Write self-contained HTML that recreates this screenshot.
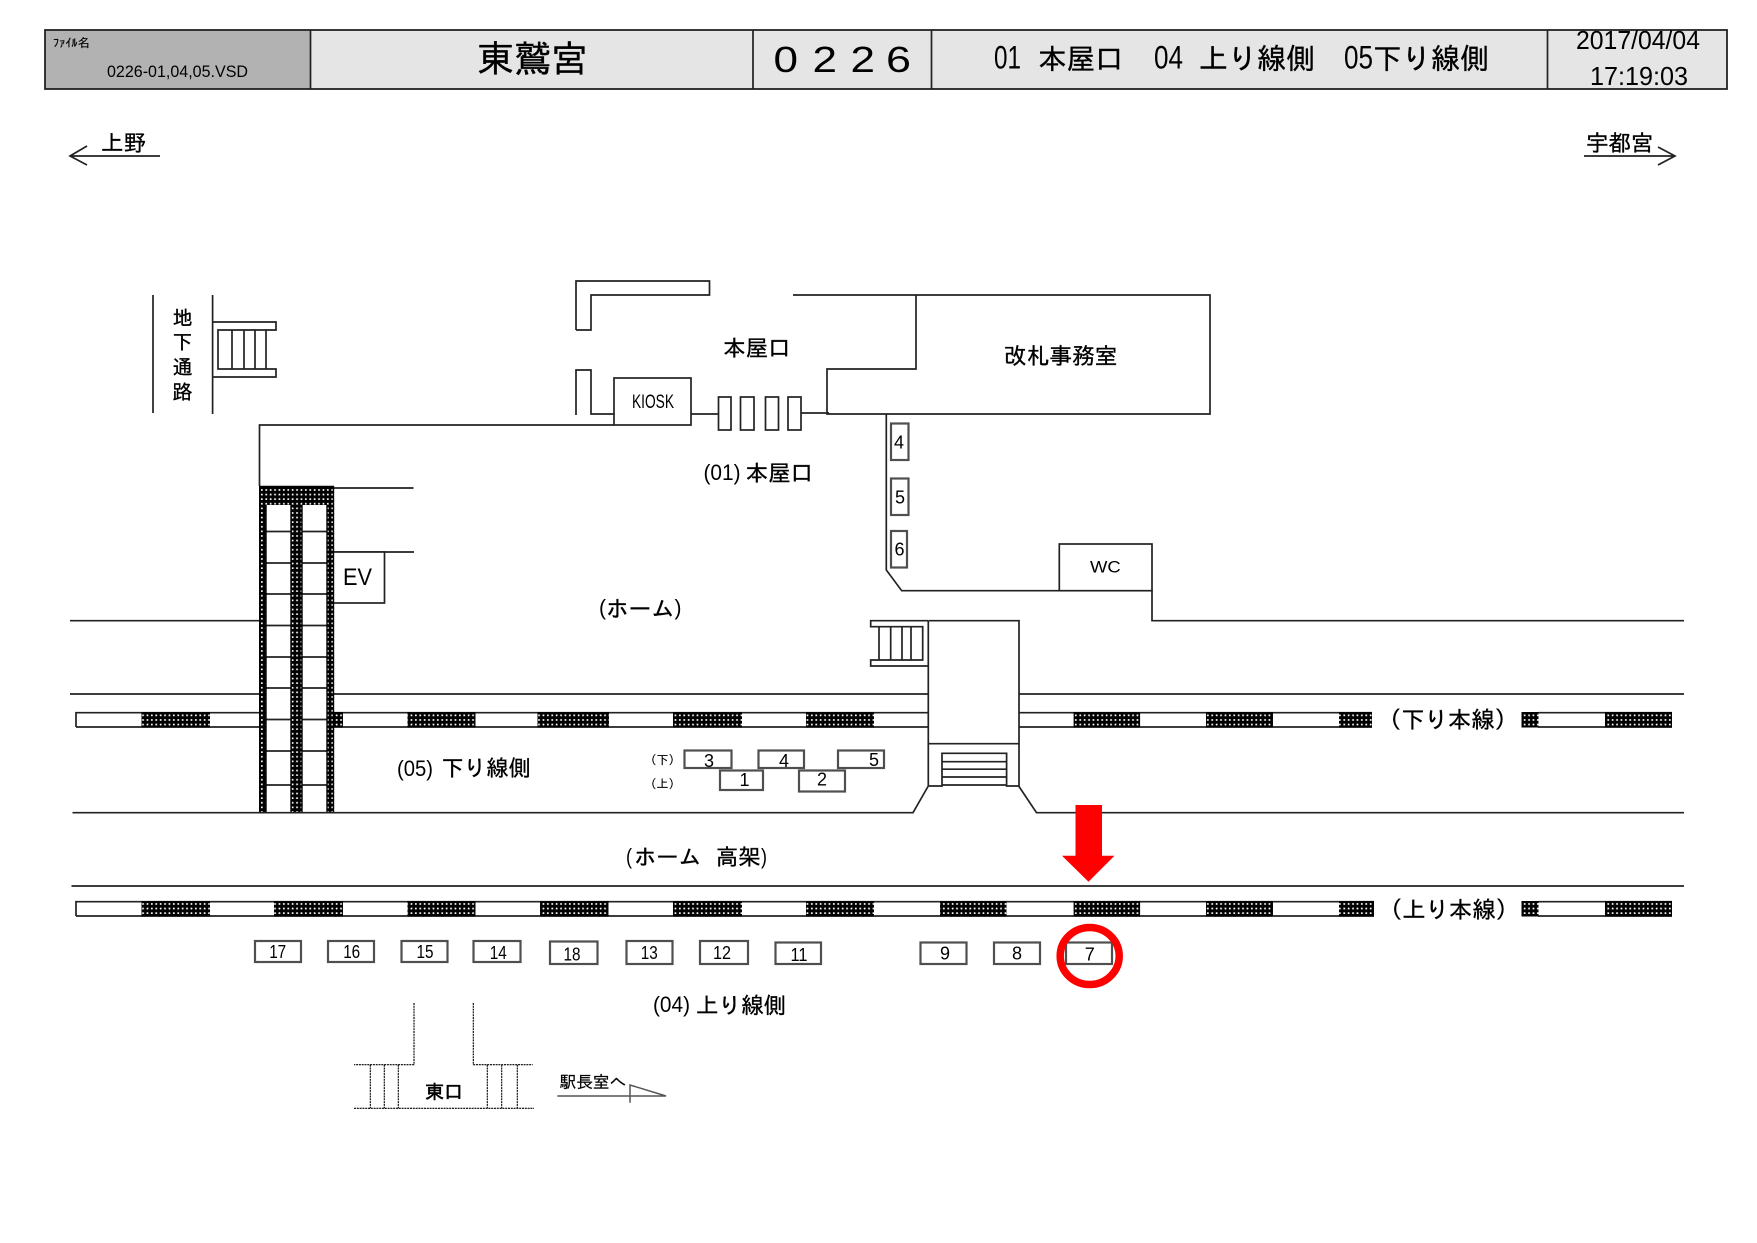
<!DOCTYPE html>
<html lang="ja">
<head>
<meta charset="utf-8">
<title>東鷲宮 0226</title>
<style>
html,body{margin:0;padding:0;background:#fff}
svg{display:block}
.j{font-family:"Liberation Sans","IPAGothic","Noto Sans CJK JP",sans-serif;fill:#000;stroke:#000;stroke-width:.35}
.l{font-family:"Liberation Sans","IPAGothic",sans-serif;fill:#000}
.n{font-family:"Liberation Sans",sans-serif;fill:#000;font-size:18px;text-anchor:middle}
.s{fill:none;stroke:#222;stroke-width:1.7}
.w{fill:#fff;stroke:#222;stroke-width:1.7}
.b{fill:#fff;stroke:#4f4f4f;stroke-width:2.200}
.d{fill:none;stroke:#000;stroke-width:1.100;stroke-dasharray:2 .8}
</style>
</head>
<body>
<svg xmlns="http://www.w3.org/2000/svg" width="1757" height="1243" viewBox="0 0 1757 1243">
<defs>
<pattern id="hp" patternUnits="userSpaceOnUse" width="4.4" height="4.6">
<rect width="4.4" height="4.6" fill="#000"/>
<rect x="1.400" y="1.500" width="1.700" height="1.700" fill="#fff"/>
</pattern>
</defs>

<!-- header -->
<rect x="45" y="30" width="265" height="59" fill="#b2b2b2"/>
<rect x="310" y="30" width="1417" height="59" fill="#e5e5e5"/>
<rect x="45" y="30" width="1682" height="59" fill="none" stroke="#222" stroke-width="1.800"/>
<path class="s" d="M310.500 30V89M753 30V89M931.500 30V89M1547.500 30V89"/>
<text class="j" x="53" y="47" font-size="12" textLength="37" lengthAdjust="spacingAndGlyphs" style="stroke-width:.15">ﾌｧｲﾙ名</text>
<text class="l" x="107" y="77" font-size="17" textLength="141" lengthAdjust="spacingAndGlyphs">0226-01,04,05.VSD</text>
<text class="j" x="477" y="72" font-size="37">東鷲宮</text>
<text class="l" x="773.500" y="72" font-size="36" textLength="24.500" lengthAdjust="spacingAndGlyphs">0</text>
<text class="l" x="812.500" y="72" font-size="36" textLength="24.500" lengthAdjust="spacingAndGlyphs">2</text>
<text class="l" x="850.500" y="72" font-size="36" textLength="24.500" lengthAdjust="spacingAndGlyphs">2</text>
<text class="l" x="886" y="72" font-size="36" textLength="25" lengthAdjust="spacingAndGlyphs">6</text>
<text class="l" x="994" y="68.500" font-size="32" textLength="27" lengthAdjust="spacingAndGlyphs">01</text>
<text class="j" x="1038" y="69" font-size="28.500">本屋口</text>
<text class="l" x="1154" y="68.500" font-size="32" textLength="29" lengthAdjust="spacingAndGlyphs">04</text>
<text class="j" x="1199" y="69" font-size="29">上り線側</text>
<text class="l" x="1344" y="68.500" font-size="32" textLength="29" lengthAdjust="spacingAndGlyphs">05</text>
<text class="j" x="1373" y="69" font-size="29">下り線側</text>
<text class="l" x="1576" y="49" font-size="26" textLength="124" lengthAdjust="spacingAndGlyphs">2017/04/04</text>
<text class="l" x="1590" y="85" font-size="26" textLength="98" lengthAdjust="spacingAndGlyphs">17:19:03</text>

<!-- direction arrows -->
<path class="s" d="M160 156H70M87 146L70 156L87 165"/>
<text class="j" x="101" y="151" font-size="22.500">上野</text>
<path class="s" d="M1584 156H1675M1658 147L1675 156L1658 165"/>
<text class="j" x="1586" y="151" font-size="22.500">宇都宮</text>

<!-- underground passage -->
<path class="s" d="M153 295V413M212.600 295V414"/>
<text class="j" font-size="20" x="172.500" y="325">地</text>
<text class="j" font-size="20" x="172.500" y="349">下</text>
<text class="j" font-size="20" x="172.500" y="374">通</text>
<text class="j" font-size="20" x="172.500" y="399">路</text>
<path class="s" d="M212.600 322H276V330H218V369H276V377H212.600M266 330V369M232 330V369M244 330V369M255 330V369"/>

<!-- main entrance -->
<path class="s" d="M576 330V281H709.500V295H591V330H576"/>
<path class="s" d="M576 415V370H591V414H614"/>
<rect class="w" x="614" y="378" width="77" height="47"/>
<text class="l" x="632" y="408" font-size="19" textLength="42" lengthAdjust="spacingAndGlyphs">KIOSK</text>
<path class="s" d="M691 414H718M801 413H829"/>
<rect class="w" x="718.500" y="397" width="12.500" height="33"/>
<rect class="w" x="740.500" y="397" width="13.500" height="33"/>
<rect class="w" x="765.500" y="397" width="13" height="33"/>
<rect class="w" x="788" y="397" width="13" height="33"/>
<path class="s" d="M793 295H1210V414H827V369H916V295"/>
<text class="j" x="723" y="356" font-size="22.500">本屋口</text>
<text class="j" x="1004" y="364" font-size="22.700">改札事務室</text>
<text class="l" x="703.500" y="480" font-size="22" textLength="37" lengthAdjust="spacingAndGlyphs">(01)</text>
<text class="j" x="745.500" y="481" font-size="22.500">本屋口</text>

<!-- platform walls -->
<path class="s" d="M614 425H259.500V486"/>
<path class="s" d="M334 488H413.500M334 552H414"/>
<rect class="w" x="333" y="552" width="51.500" height="51"/>
<text class="l" x="343" y="585" font-size="24.500" textLength="29" lengthAdjust="spacingAndGlyphs">EV</text>
<path class="s" d="M70 620.700H259"/>
<text class="l" x="599" y="615" font-size="22" textLength="7" lengthAdjust="spacingAndGlyphs">(</text>
<text class="j" x="606" y="617" font-size="23" textLength="68" lengthAdjust="spacingAndGlyphs">ホーム</text>
<text class="l" x="674.500" y="615" font-size="22" textLength="7" lengthAdjust="spacingAndGlyphs">)</text>

<!-- right corridor -->
<path class="s" d="M886.300 414V570L901.700 590.700H1059.300"/>
<rect class="b" x="891" y="423.500" width="17.500" height="36.500"/>
<rect class="b" x="891" y="478.500" width="17.500" height="36.500"/>
<rect class="b" x="891" y="531" width="16" height="36.500"/>
<text class="n" x="899" y="448.500">4</text>
<text class="n" x="900" y="503.500">5</text>
<text class="n" x="899.500" y="555.500">6</text>
<rect class="w" x="1059.300" y="544" width="92.700" height="46.700"/>
<text class="l" x="1090" y="572.700" font-size="17" textLength="30.700" lengthAdjust="spacingAndGlyphs">WC</text>
<path class="s" d="M1152 590.700V620.700H1684"/>

<!-- platform stairs -->
<path class="s" d="M928 620.700H870.700V626.700H922.700V660H870.700V666H928M879 626.700V660M890.700 626.700V660M902 626.700V660M911 626.700V660"/>
<path class="s" d="M928.300 620.700H1019V786H1006.600V753.300H942V786H928.300V620.700M928.300 743.700H1019"/>
<path class="s" d="M942 761.700H1006.600M942 769.200H1006.600M942 777H1006.600M942 785H1006.600"/>

<!-- up/down tracks -->
<path class="s" d="M70 694H259M334 694H928M1019 694H1684"/>
<path class="s" d="M76 727V712.700H259M76 727H259M334 712.700H928M334 727H928M1019 712.700H1372M1019 727H1372M1538 712.700H1672M1538 727H1672"/>
<g fill="url(#hp)">
<rect x="141.500" y="712" width="68.500" height="15.500"/>
<rect x="334" y="712" width="9" height="15.500"/>
<rect x="407.500" y="712" width="68" height="15.500"/>
<rect x="537.500" y="712" width="71.500" height="15.500"/>
<rect x="673" y="712" width="69" height="15.500"/>
<rect x="806" y="712" width="68" height="15.500"/>
<rect x="1073.600" y="712" width="66.500" height="15.500"/>
<rect x="1206" y="712" width="67" height="15.500"/>
<rect x="1339" y="712" width="33" height="15.500"/>
<rect x="1521.500" y="712" width="17" height="15.500"/>
<rect x="1605" y="712" width="67" height="15.500"/>
</g>
<text class="j" x="1378" y="728" font-size="23.300">（下り本線）</text>

<!-- escalator columns -->
<rect x="266" y="505" width="25" height="308" fill="#fff"/>
<rect x="302" y="505" width="25" height="308" fill="#fff"/>
<path class="s" d="M266 531.500H291M302 531.500H327M266 563H291M302 563H327M266 594H291M302 594H327M266 625.500H291M302 625.500H327M266 657H291M302 657H327M266 688H291M302 688H327M266 719.500H291M302 719.500H327M266 751H291M302 751H327M266 785H291M302 785H327"/>
<g fill="url(#hp)">
<rect x="259" y="486" width="75" height="19"/>
<rect x="259" y="505" width="7.500" height="308"/>
<rect x="290.500" y="505" width="11.500" height="308"/>
<rect x="326.500" y="505" width="7.500" height="308"/>
</g>
<path d="M260 486V813M266 505V813M291 505V813M302 505V813M327 505V813M333.500 486V813M259 486.500H334" fill="none" stroke="#000" stroke-width="1.400"/>

<text class="l" x="397" y="776" font-size="22" textLength="36" lengthAdjust="spacingAndGlyphs">(05)</text>
<text class="j" x="441.500" y="776" font-size="22.300">下り線側</text>
<text class="j" x="644.500" y="764" font-size="12" style="stroke-width:.15">（下）</text>
<text class="j" x="644.500" y="788" font-size="12" style="stroke-width:.15">（上）</text>

<rect class="b" x="684.500" y="750.500" width="47" height="17.500"/>
<rect class="b" x="758.500" y="750.500" width="45.500" height="17.500"/>
<rect class="b" x="838" y="750.500" width="46" height="17.500"/>
<rect class="b" x="720" y="770.500" width="43" height="19.500"/>
<rect class="b" x="799" y="770.500" width="46" height="21"/>
<text class="n" x="709" y="767">3</text>
<text class="n" x="784" y="767">4</text>
<text class="n" x="874" y="766">5</text>
<text class="n" x="744.500" y="786">1</text>
<text class="n" x="822" y="785.500">2</text>

<path class="s" d="M72.500 812.700H913L928 786.500M1019 786.500L1036.500 812.700H1684"/>

<text class="l" x="626" y="864" font-size="22" textLength="6" lengthAdjust="spacingAndGlyphs">(</text>
<text class="j" x="634" y="865" font-size="22.300">ホーム</text>
<text class="j" x="716" y="865" font-size="22.300">高架</text>
<text class="l" x="761" y="864" font-size="22" textLength="6" lengthAdjust="spacingAndGlyphs">)</text>

<path class="s" d="M71.500 886H1684"/>
<path class="s" d="M76 916V901.700H1374M76 916H1374M1538 901.700H1672M1538 916H1672"/>
<g fill="url(#hp)">
<rect x="141.500" y="901" width="68.500" height="15.500"/>
<rect x="274" y="901" width="69" height="15.500"/>
<rect x="407.500" y="901" width="68" height="15.500"/>
<rect x="540" y="901" width="68.500" height="15.500"/>
<rect x="673" y="901" width="69" height="15.500"/>
<rect x="806" y="901" width="68" height="15.500"/>
<rect x="940" y="901" width="66.500" height="15.500"/>
<rect x="1073.600" y="901" width="66.500" height="15.500"/>
<rect x="1206" y="901" width="67" height="15.500"/>
<rect x="1339" y="901" width="35" height="15.500"/>
<rect x="1521.500" y="901" width="17" height="15.500"/>
<rect x="1605" y="901" width="67" height="15.500"/>
</g>
<text class="j" x="1379" y="918" font-size="23.300">（上り本線）</text>

<!-- lower numbered boxes -->
<rect class="b" x="255" y="941" width="46" height="21"/>
<rect class="b" x="328" y="941" width="46" height="21"/>
<rect class="b" x="401.500" y="941" width="46" height="21"/>
<rect class="b" x="473.500" y="941" width="47" height="21"/>
<rect class="b" x="550" y="941.500" width="47.500" height="22.500"/>
<rect class="b" x="626.500" y="941" width="46" height="23"/>
<rect class="b" x="700" y="941" width="48" height="23"/>
<rect class="b" x="775.500" y="942.500" width="45.500" height="21.500"/>
<rect class="b" x="920.500" y="942.500" width="46" height="21.500"/>
<rect class="b" x="994" y="942.500" width="46" height="21.500"/>
<rect class="b" x="1066" y="942.500" width="46" height="21.500"/>
<text class="n" x="277.700" y="958" textLength="17" lengthAdjust="spacingAndGlyphs">17</text>
<text class="n" x="351.700" y="958" textLength="17" lengthAdjust="spacingAndGlyphs">16</text>
<text class="n" x="425" y="958" textLength="17" lengthAdjust="spacingAndGlyphs">15</text>
<text class="n" x="498.300" y="959" textLength="17" lengthAdjust="spacingAndGlyphs">14</text>
<text class="n" x="572" y="960.500" textLength="17" lengthAdjust="spacingAndGlyphs">18</text>
<text class="n" x="649.300" y="959" textLength="17" lengthAdjust="spacingAndGlyphs">13</text>
<text class="n" x="722" y="959" textLength="18" lengthAdjust="spacingAndGlyphs">12</text>
<text class="n" x="799" y="961" textLength="17" lengthAdjust="spacingAndGlyphs">11</text>
<text class="n" x="945" y="959.500">9</text>
<text class="n" x="1017" y="959.500">8</text>
<text class="n" x="1089.700" y="960.500">7</text>

<text class="l" x="653" y="1012" font-size="22" textLength="37" lengthAdjust="spacingAndGlyphs">(04)</text>
<text class="j" x="696" y="1013.500" font-size="22.500">上り線側</text>

<!-- east exit -->
<path class="d" d="M414 1003V1064.700H354M473.300 1003V1064.700H532.700M354 1108.300H534M370.300 1064.700V1108.300M384.300 1064.700V1108.300M398.300 1064.700V1108.300M487.300 1064.700V1108.300M501.700 1064.700V1108.300M517.300 1064.700V1108.300"/>
<text class="j" x="425" y="1098.500" font-size="19" style="stroke-width:.6">東口</text>
<text class="j" x="559.500" y="1088" font-size="16.700" style="stroke-width:.2">駅長室へ</text>
<path d="M557.300 1096H666L630 1085V1102.700" fill="none" stroke="#555" stroke-width="1.500"/>

<!-- red marker -->
<polygon points="1075.500,805 1102,805 1102,855.700 1114.500,855.700 1088.500,881.700 1062,855.700 1075.500,855.700" fill="#ff0000"/>
<ellipse cx="1089.700" cy="956" rx="29.500" ry="28.500" fill="none" stroke="#ff0000" stroke-width="7.500"/>
</svg>
</body>
</html>
